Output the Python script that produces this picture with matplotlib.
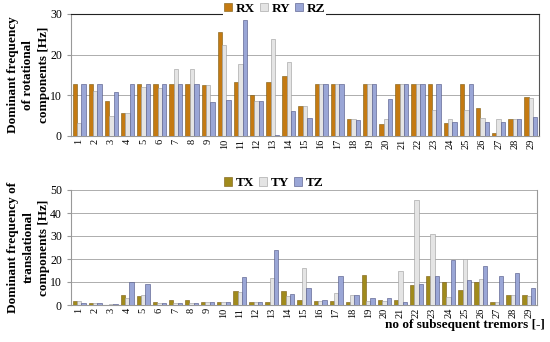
import numpy as np
import matplotlib
matplotlib.use('Agg')
import matplotlib.pyplot as plt

plt.rcParams['font.family'] = ['Liberation Serif', 'DejaVu Serif']

tremors = [str(i) for i in range(1, 30)]

# rotational components [Hz]
rx = [12.7, 12.7, 8.7, 5.7, 12.7, 12.7, 12.7, 12.7, 12.5, 25.5, 13.4, 10.2, 13.3, 14.7, 7.3,
      12.7, 12.7, 4.3, 12.7, 3.0, 12.7, 12.9, 12.7, 3.3, 12.7, 7.0, 0.7, 4.3, 9.6]
ry = [3.1, 11.1, 5.0, 5.6, 12.0, 11.7, 16.5, 16.5, 12.5, 22.5, 17.6, 8.6, 23.8, 18.2, 7.3,
      12.7, 12.7, 4.3, 12.7, 4.3, 12.7, 12.9, 6.3, 4.3, 6.3, 4.4, 4.1, 4.3, 9.3]
rz = [12.7, 12.7, 10.7, 12.7, 12.7, 12.7, 12.7, 12.7, 8.4, 8.9, 28.6, 8.6, 0.2, 6.1, 4.4,
      12.7, 12.7, 3.9, 12.7, 9.2, 12.7, 12.9, 12.7, 3.4, 12.7, 3.4, 3.4, 4.3, 4.6]

# translational components [Hz]
tx = [1.9, 0.7, 0.2, 4.5, 3.9, 1.3, 2.2, 2.2, 1.3, 1.3, 6.3, 1.3, 1.2, 6.0, 2.2,
      1.6, 1.6, 1.5, 13.0, 2.3, 2.2, 8.9, 12.8, 10.2, 6.4, 9.9, 1.5, 4.4, 4.5]
ty = [1.6, 0.7, 0.6, 3.2, 4.2, 0.7, 0.7, 0.7, 1.3, 1.3, 5.8, 1.3, 11.7, 3.8, 16.3,
      1.6, 5.4, 4.4, 1.6, 1.7, 14.6, 45.6, 30.8, 3.5, 20.0, 11.5, 1.5, 4.4, 4.1]
tz = [0.7, 0.7, 0.6, 9.9, 9.2, 0.7, 0.7, 0.7, 1.3, 1.3, 12.2, 1.3, 24.1, 4.7, 7.4,
      2.3, 12.8, 4.4, 3.2, 3.1, 1.5, 9.2, 12.8, 19.5, 10.9, 16.8, 12.5, 14.1, 7.3]

fig = plt.figure(figsize=(5.5, 3.42), dpi=100)
ax1 = fig.add_axes([71/550, 1-136/342, 468/550, 122/342])
ax2 = fig.add_axes([71/550, 1-305/342, 466/550, 115/342])

x = np.arange(len(tremors))
w = 0.27


def draw(ax, a, b, c, labels, col_a, ymax, step, leg_y):
    ax.bar(x - w, a, w, color=col_a, edgecolor='#7a5a10', linewidth=0.4, label=labels[0], zorder=3)
    ax.bar(x, b, w, color='#e4e4e4', edgecolor='#9a9a9a', linewidth=0.4, label=labels[1], zorder=3)
    ax.bar(x + w, c, w, color='#9aa6d6', edgecolor='#4a5080', linewidth=0.4, label=labels[2], zorder=3)
    ax.set_xlim(-0.5, len(tremors) - 0.5)
    ax.set_ylim(0, ymax)
    ax.set_yticks(np.arange(0, ymax + 1, step))
    ax.set_xticks(x)
    ax.set_xticklabels(tremors, rotation=90, fontsize=7.5)
    ax.tick_params(axis='y', labelsize=8.5, length=3, color='#999999')
    ax.tick_params(axis='x', length=0, pad=2)
    ax.grid(axis='y', color='#a0a0a0', linewidth=0.6, zorder=0)
    for s in ['left', 'right', 'bottom', 'top']:
        ax.spines[s].set_color('#999999')
        ax.spines[s].set_linewidth(0.8)
    leg = ax.legend(loc='center', bbox_to_anchor=(0.435, leg_y), ncol=3,
                    frameon=True, handlelength=0.6, handleheight=0.6, handletextpad=0.25,
                    columnspacing=0.4, borderpad=0.1, borderaxespad=0, fancybox=False,
                    prop={'weight': 'bold', 'size': 9.5})
    leg.get_frame().set_linewidth(0)
    leg.get_frame().set_facecolor('white')
    leg.get_frame().set_alpha(1)


draw(ax1, rx, ry, rz, ['RX', 'RY', 'RZ'], '#c47a12', 30, 10, 1.045)
ax1.spines['top'].set_color('#222222')
ax1.spines['right'].set_color('#555555')
ax1.set_ylabel('Dominant frequency\nof rotational\ncomponents [Hz]', fontsize=9.5,
               fontweight='bold', linespacing=1.4)
ax1.yaxis.set_label_coords(-0.045, 0.5)

draw(ax2, tx, ty, tz, ['TX', 'TY', 'TZ'], '#a08a1c', 50, 10, 1.06)
ax2.spines['top'].set_visible(False)
ax2.set_ylabel('Dominant frequency of\ntranslational\ncomponents [Hz]', fontsize=9.5,
               fontweight='bold', linespacing=1.4)
ax2.yaxis.set_label_coords(-0.045, 0.5)
ax2.set_xlabel('no of subsequent tremors [-]', fontsize=9.5, fontweight='bold')
ax2.xaxis.set_label_coords(1.017, -0.125)
ax2.xaxis.label.set_horizontalalignment('right')

fig.savefig('out.png', dpi=100)
